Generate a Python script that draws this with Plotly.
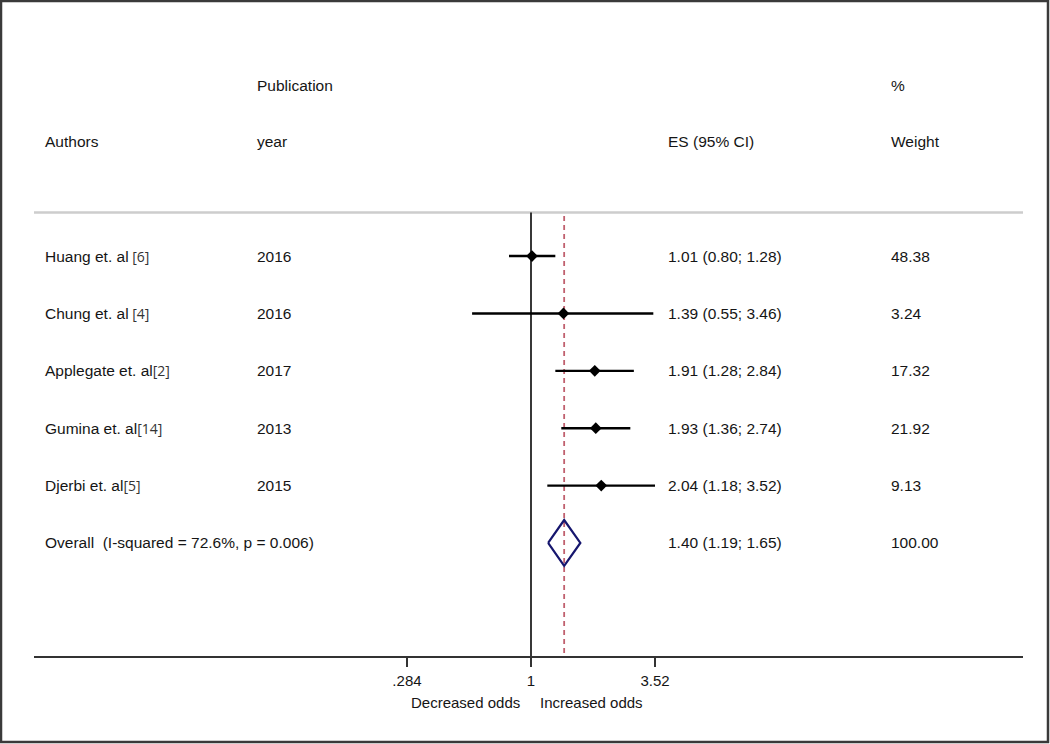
import math
import plotly.graph_objects as go

# ---- data ----
authors = ["Huang et. al", "Chung et. al", "Applegate et. al", "Gumina et. al", "Djerbi et. al"]
refs = [" [6]", " [4]", "[2]", "[14]", "[5]"]
years = ["2016", "2016", "2017", "2013", "2015"]
es = [1.01, 1.39, 1.91, 1.93, 2.04]
ci_lo = [0.80, 0.55, 1.28, 1.36, 1.18]
ci_hi = [1.28, 3.46, 2.84, 2.74, 3.52]
weights = [48.38, 3.24, 17.32, 21.92, 9.13]
overall_es, overall_lo, overall_hi, overall_w = 1.40, 1.19, 1.65, 100.00
i_squared, p_het = 72.6, 0.006
null_value = 1
tick_vals = [0.284, 1, 3.52]
tick_text = [".284", "1", "3.52"]

# ---- layout geometry ----
W, H = 1050, 744
ML, MR, MT, MB = 34, 27, 30, 88
PW, PH = W - ML - MR, H - MT - MB
PX_PER_DEC = 226.9
X0_PX = 531  # pixel of x = 1
xr = [(ML - X0_PX) / PX_PER_DEC, (W - MR - X0_PX) / PX_PER_DEC]
yr = [6.97, -3.94]

def px2paper_x(px):
    return (px - ML) / PW

def py2paper_y(py):
    return (H - MB - py) / PH

FONT = "Liberation Sans, Arial, sans-serif"
FS = 15.5
TXT = "#151515"

rows = list(range(len(authors)))
overall_row = len(authors)

fig = go.Figure()

# CI lines
cx, cy = [], []
for r, l, h in zip(rows, ci_lo, ci_hi):
    cx += [l, h, None]
    cy += [r, r, None]
fig.add_trace(go.Scatter(x=cx, y=cy, mode="lines", line=dict(color="black", width=2.4),
                         hoverinfo="skip", showlegend=False))
# point estimates
fig.add_trace(go.Scatter(x=es, y=rows, mode="markers",
                         marker=dict(symbol="diamond", size=9, color="black"),
                         showlegend=False))
# overall diamond
dh = 0.4
fig.add_trace(go.Scatter(x=[overall_lo, overall_es, overall_hi, overall_es, overall_lo],
                         y=[overall_row, overall_row - dh, overall_row, overall_row + dh, overall_row],
                         mode="lines", line=dict(color="#16166e", width=2.2),
                         showlegend=False))

shapes = []
# gray separator
shapes.append(dict(type="line", xref="paper", yref="y", x0=0, x1=1, y0=-0.76, y1=-0.76,
                   line=dict(color="#cdcdcd", width=2.5), layer="below"))
# null line at 1
shapes.append(dict(type="line", xref="x", yref="y", x0=null_value, x1=null_value, y0=-0.76, y1=yr[0],
                   line=dict(color="#222222", width=1.8), layer="below"))
# overall dashed line
shapes.append(dict(type="line", xref="x", yref="y", x0=overall_es, x1=overall_es, y0=-0.70, y1=yr[0],
                   line=dict(color="#c0606e", width=1.8, dash="5px,4px"), layer="below"))
# outer border
shapes.append(dict(type="rect", xref="paper", yref="paper",
                   x0=px2paper_x(1), x1=px2paper_x(1048), y0=py2paper_y(742), y1=py2paper_y(1),
                   line=dict(color="#3a3a3a", width=2.5), fillcolor="rgba(0,0,0,0)"))

ann = []
def add_text(px, row, text, anchor="left", size=FS):
    ann.append(dict(x=px2paper_x(px), xref="paper", y=row, yref="y", text=text,
                    showarrow=False, xanchor=anchor, yanchor="middle",
                    font=dict(family=FONT, size=size, color=TXT)))

COL_AUTH, COL_YEAR, COL_ES, COL_W = 43, 255, 666, 889
# headers
add_text(COL_YEAR, -2.98, "Publication")
add_text(COL_W, -2.98, "%")
add_text(COL_AUTH, -1.99, "Authors")
add_text(COL_YEAR, -1.99, "year")
add_text(COL_ES, -1.99, "ES (95% CI)")
add_text(COL_W, -1.99, "Weight")

for r, a, rf, yv, e, l, h, w in zip(rows, authors, refs, years, es, ci_lo, ci_hi, weights):
    add_text(COL_AUTH, r, a + "<span style='font-family:Open Sans;font-size:14px;color:#333'>"
             + rf.replace(" ", "&nbsp;") + "</span>")
    add_text(COL_YEAR, r, yv)
    add_text(COL_ES, r, f"{e:.2f} ({l:.2f}; {h:.2f})")
    add_text(COL_W, r, f"{w:.2f}")

add_text(COL_AUTH, overall_row, f"Overall&nbsp; (I-squared = {i_squared:.1f}%, p = {p_het:.3f})")
add_text(COL_ES, overall_row, f"{overall_es:.2f} ({overall_lo:.2f}; {overall_hi:.2f})")
add_text(COL_W, overall_row, f"{overall_w:.2f}")

# axis captions
for px, anchor, t in [(522, "right", "Decreased odds"), (538, "left", "Increased odds")]:
    ann.append(dict(x=px2paper_x(px), xref="paper", y=py2paper_y(702), yref="paper", text=t,
                    showarrow=False, xanchor=anchor, yanchor="middle",
                    font=dict(family=FONT, size=FS - 0.5, color=TXT)))

fig.update_layout(
    width=W, height=H,
    margin=dict(l=ML, r=MR, t=MT, b=MB, pad=0),
    paper_bgcolor="white", plot_bgcolor="white",
    shapes=shapes, annotations=ann,
    xaxis=dict(type="log", range=xr, tickvals=tick_vals, ticktext=tick_text,
               showgrid=False, zeroline=False, showline=True, linecolor="#333333", linewidth=2,
               ticks="outside", ticklen=9, tickwidth=1.6, tickcolor="#333333",
               tickfont=dict(family=FONT, size=FS - 0.5, color=TXT), ticklabelstandoff=1),
    yaxis=dict(range=yr, showgrid=False, zeroline=False, showline=False,
               showticklabels=False, ticks=""),
    showlegend=False,
)

fig.write_html("out.html", config={"displayModeBar": False},
               post_script="document.body.style.margin='0';document.body.style.overflow='hidden';")
